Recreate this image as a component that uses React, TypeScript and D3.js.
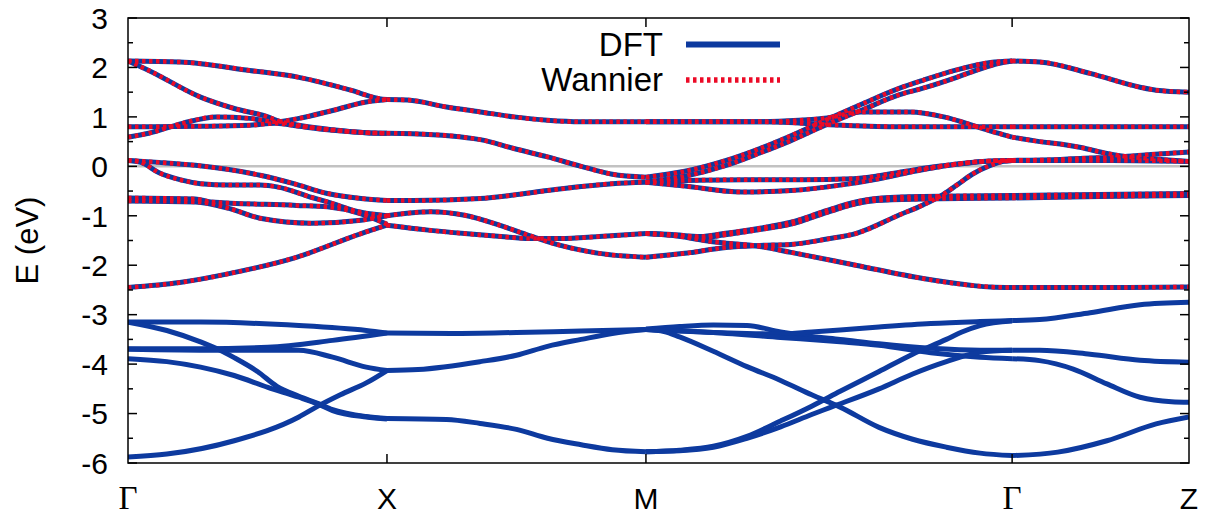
import React from 'react';
import * as d3 from 'd3';

type Pt = [number, number];

const kPoints = [0, 1, 2, 3.414, 4.097];
const kLabels = ['Γ', 'X', 'M', 'Γ', 'Z'];
const yTicks = [3, 2, 1, 0, -1, -2, -3, -4, -5, -6];
const yMinor = [2.5, 1.5, 0.5, -0.5, -1.5, -2.5, -3.5, -4.5, -5.5];

// Wannier-fitted bands (also present in DFT)
const wannierGX: Pt[][] = [
  [[0, 2.13], [0.2, 2.11], [0.47, 1.94], [0.66, 1.8], [0.86, 1.54], [0.97, 1.37], [1, 1.35]],
  [[0, 2.13], [0.08, 1.94], [0.28, 1.4], [0.41, 1.17], [0.54, 1.0], [0.58, 0.92], [0.66, 0.83], [0.79, 0.74], [0.92, 0.68], [1, 0.67]],
  [[0, 0.59], [0.08, 0.67], [0.21, 0.87], [0.34, 1.0], [0.47, 0.97], [0.57, 0.9], [0.66, 0.97], [0.79, 1.13], [0.92, 1.3], [1, 1.35]],
  [[0, 0.8], [0.28, 0.81], [0.47, 0.83], [0.57, 0.87], [0.66, 0.81], [0.79, 0.73], [0.92, 0.68], [1, 0.67]],
  [[0, 0.12], [0.12, 0.08], [0.26, 0.02], [0.51, -0.18], [0.64, -0.35], [0.77, -0.55], [0.9, -0.65], [1, -0.69]],
  [[0, 0.12], [0.05, 0.08], [0.12, -0.13], [0.2, -0.27], [0.28, -0.35], [0.39, -0.38], [0.51, -0.38], [0.58, -0.42], [0.71, -0.63], [0.77, -0.72], [0.9, -0.93], [1, -1.0]],
  [[0, -0.64], [0.26, -0.66], [0.32, -0.72], [0.65, -0.79], [0.77, -0.82], [0.9, -0.96], [1, -1.17]],
  [[0, -0.7], [0.26, -0.72], [0.39, -0.85], [0.51, -1.05], [0.71, -1.15], [0.9, -1.09], [1, -1.0]],
  [[0, -2.45], [0.2, -2.35], [0.39, -2.17], [0.65, -1.84], [0.9, -1.36], [1, -1.19]],
];

const wannierXM: Pt[][] = [
  [[1, 1.35], [1.08, 1.34], [1.23, 1.2], [1.36, 1.1], [1.49, 1.0], [1.62, 0.93], [1.75, 0.9], [2, 0.9]],
  [[1, 0.67], [1.1, 0.66], [1.36, 0.54], [1.49, 0.36], [1.62, 0.19], [1.75, 0.0], [1.87, -0.16], [2, -0.22]],
  [[1, -0.69], [1.1, -0.69], [1.36, -0.65], [1.49, -0.58], [1.62, -0.49], [1.75, -0.41], [1.87, -0.35], [2, -0.32]],
  [[1, -1.0], [1.17, -0.92], [1.3, -0.99], [1.44, -1.2], [1.55, -1.4], [1.67, -1.6], [1.82, -1.76], [2, -1.84]],
  [[1, -1.19], [1.16, -1.29], [1.3, -1.36], [1.44, -1.42], [1.55, -1.46], [1.67, -1.46], [1.82, -1.42], [2, -1.36]],
];

const wannierMG: Pt[][] = [
  [[2, 0.9], [2.44, 0.9], [2.59, 0.93], [2.7, 0.98], [2.83, 1.1], [3.02, 1.1], [3.15, 1.0], [3.28, 0.8], [3.36, 0.67], [3.414, 0.59]],
  [[2, 0.9], [2.44, 0.9], [2.76, 0.83], [3.0, 0.8], [3.414, 0.8]],
  [[2, -0.22], [2.15, -0.1], [2.31, 0.12], [2.44, 0.36], [2.56, 0.62], [2.7, 0.95], [2.83, 1.25], [2.98, 1.58], [3.07, 1.74], [3.2, 1.95], [3.33, 2.1], [3.414, 2.13]],
  [[2, -0.32], [2.15, -0.2], [2.31, 0.02], [2.44, 0.27], [2.56, 0.52], [2.7, 0.85], [2.83, 1.13], [2.98, 1.45], [3.07, 1.58], [3.2, 1.8], [3.28, 1.95], [3.36, 2.08], [3.414, 2.13]],
  [[2, -0.32], [2.2, -0.28], [2.44, -0.27], [2.6, -0.27], [2.8, -0.25], [2.98, -0.12], [3.1, -0.02], [3.2, 0.05], [3.3, 0.1], [3.414, 0.12]],
  [[2, -0.32], [2.15, -0.4], [2.37, -0.52], [2.56, -0.49], [2.75, -0.38], [2.9, -0.25], [3.0, -0.14], [3.1, -0.04], [3.2, 0.04], [3.3, 0.1], [3.414, 0.12]],
  [[2, -1.36], [2.1, -1.38], [2.21, -1.42], [2.3, -1.36], [2.44, -1.25], [2.56, -1.13], [2.7, -0.89], [2.81, -0.72], [2.89, -0.65], [3.07, -0.61], [3.414, -0.59]],
  [[2, -1.36], [2.1, -1.39], [2.21, -1.44], [2.3, -1.39], [2.44, -1.28], [2.56, -1.17], [2.7, -0.93], [2.81, -0.76], [2.89, -0.69], [3.07, -0.66], [3.414, -0.64]],
  [[2, -1.84], [2.15, -1.76], [2.31, -1.64], [2.44, -1.6], [2.56, -1.58], [2.7, -1.47], [2.81, -1.36], [2.98, -0.98], [3.07, -0.78], [3.15, -0.56], [3.2, -0.38], [3.26, -0.16], [3.33, 0.02], [3.38, 0.1], [3.414, 0.12]],
  [[2, -1.36], [2.12, -1.41], [2.25, -1.52], [2.44, -1.62], [2.56, -1.74], [2.81, -2.0], [3.07, -2.27], [3.26, -2.41], [3.33, -2.44], [3.414, -2.45]],
];

const wannierGZ: Pt[][] = [
  [[3.414, 2.13], [3.52, 2.11], [3.715, 1.88], [3.908, 1.6], [3.97, 1.54], [4.097, 1.5]],
  [[3.414, 0.8], [3.75, 0.8], [4.097, 0.8]],
  [[3.414, 0.59], [3.52, 0.5], [3.6, 0.45], [3.68, 0.38], [3.78, 0.26], [3.85, 0.2], [3.935, 0.16], [4.097, 0.1]],
  [[3.414, 0.12], [3.6, 0.14], [3.677, 0.16], [3.83, 0.19], [3.95, 0.24], [4.097, 0.29]],
  [[3.414, 0.12], [3.6, 0.12], [3.8, 0.12], [4.097, 0.1]],
  [[3.414, -0.59], [3.75, -0.57], [4.097, -0.55]],
  [[3.414, -0.64], [3.75, -0.61], [4.097, -0.59]],
  [[3.414, -2.45], [3.75, -2.45], [4.097, -2.44]],
];

// DFT-only bands (below the Wannier window)
const dftGX: Pt[][] = [
  [[0, -3.15], [0.28, -3.15], [0.66, -3.22], [0.92, -3.32], [1, -3.37]],
  [[0, -3.15], [0.15, -3.32], [0.28, -3.55], [0.34, -3.68], [0.41, -3.87], [0.5, -4.15], [0.575, -4.45], [0.66, -4.65], [0.73, -4.79], [0.79, -4.92], [0.92, -5.06], [1, -5.1]],
  [[0, -3.69], [0.28, -3.69], [0.54, -3.66], [0.79, -3.52], [1, -3.37]],
  [[0, -3.7], [0.34, -3.72], [0.66, -3.72], [0.79, -3.86], [0.92, -4.06], [1, -4.13]],
  [[0, -3.89], [0.15, -3.95], [0.28, -4.06], [0.41, -4.23], [0.54, -4.47], [0.66, -4.67], [0.73, -4.8], [0.79, -4.94], [0.92, -5.07], [1, -5.11]],
  [[0, -5.88], [0.15, -5.82], [0.41, -5.55], [0.66, -5.07], [0.73, -4.86], [0.82, -4.62], [0.92, -4.38], [1, -4.13]],
];

const dftXM: Pt[][] = [
  [[1, -3.37], [1.25, -3.38], [1.5, -3.36], [1.75, -3.33], [2, -3.3]],
  [[1, -4.13], [1.12, -4.11], [1.36, -3.95], [1.5, -3.82], [1.62, -3.64], [1.75, -3.5], [1.87, -3.38], [2, -3.3]],
  [[1, -5.1], [1.23, -5.12], [1.36, -5.2], [1.5, -5.32], [1.62, -5.5], [1.75, -5.63], [1.87, -5.73], [2, -5.77]],
];

const dftMG: Pt[][] = [
  [[2, -3.29], [2.13, -3.24], [2.26, -3.21], [2.39, -3.22], [2.52, -3.35], [2.64, -3.44], [2.75, -3.5], [2.9, -3.59], [3.1, -3.68], [3.29, -3.72], [3.414, -3.72]],
  [[2, -3.3], [2.13, -3.33], [2.26, -3.36], [2.39, -3.38], [2.52, -3.39], [2.64, -3.35], [2.75, -3.31], [2.9, -3.25], [3.1, -3.18], [3.29, -3.14], [3.414, -3.12]],
  [[2, -3.3], [2.26, -3.36], [2.52, -3.46], [2.75, -3.55], [2.9, -3.62], [3.1, -3.77], [3.29, -3.86], [3.414, -3.89]],
  [[2, -3.3], [2.07, -3.34], [2.13, -3.45], [2.26, -3.74], [2.39, -4.05], [2.52, -4.33], [2.64, -4.62], [2.75, -4.87], [2.9, -5.28], [3.03, -5.52], [3.16, -5.68], [3.29, -5.8], [3.414, -5.85]],
  [[2, -5.77], [2.13, -5.74], [2.26, -5.66], [2.39, -5.46], [2.52, -5.15], [2.64, -4.85], [2.75, -4.55], [2.9, -4.15], [3.03, -3.8], [3.16, -3.5], [3.22, -3.35], [3.29, -3.22], [3.414, -3.13]],
  [[2, -5.77], [2.13, -5.75], [2.26, -5.68], [2.39, -5.5], [2.52, -5.27], [2.64, -5.02], [2.71, -4.88], [2.9, -4.5], [3.03, -4.2], [3.16, -3.95], [3.29, -3.76], [3.414, -3.72]],
];

const dftGZ: Pt[][] = [
  [[3.414, -3.12], [3.52, -3.1], [3.715, -2.96], [3.908, -2.8], [4.097, -2.75]],
  [[3.414, -3.72], [3.52, -3.72], [3.715, -3.8], [3.908, -3.92], [4.097, -3.96]],
  [[3.414, -3.89], [3.52, -3.93], [3.65, -4.1], [3.78, -4.4], [3.908, -4.67], [4.03, -4.76], [4.097, -4.77]],
  [[3.414, -5.85], [3.59, -5.78], [3.78, -5.55], [3.97, -5.21], [4.097, -5.07]],
];

const BLUE = '#0d3a9f';
const RED = '#ec0a26';
const SANS = '"Liberation Sans", Arial, Helvetica, sans-serif';
const SERIF = '"Liberation Serif", "Times New Roman", serif';

export default function App() {
  const left = 128, right = 1189, top = 18, bottom = 463;
  const x = d3.scaleLinear().domain([kPoints[0], kPoints[kPoints.length - 1]]).range([left, right]);
  const y = d3.scaleLinear().domain([-6, 3]).range([bottom, top]);
  const line = d3.line<Pt>().x((d) => x(d[0])).y((d) => y(d[1])).curve(d3.curveMonotoneX);

  const wannier = [...wannierGX, ...wannierXM, ...wannierMG, ...wannierGZ];
  const dftOnly = [...dftGX, ...dftXM, ...dftMG, ...dftGZ];
  const lw = 5;

  return (
    <svg width={1210} height={518} style={{ position: 'absolute', left: 0, top: 0, background: '#fff' }}>
      <rect x={0} y={0} width={1210} height={518} fill="#fff" />
      <defs>
        <clipPath id="plotclip">
          <rect x={left} y={top} width={right - left} height={bottom - top} />
        </clipPath>
      </defs>
      <line x1={left} x2={right} y1={y(0)} y2={y(0)} stroke="#c2c2c2" strokeWidth={2.5} />
      <g clipPath="url(#plotclip)" fill="none">
        {dftOnly.map((b, i) => (
          <path key={'d' + i} d={line(b) || ''} stroke={BLUE} strokeWidth={lw} />
        ))}
        {wannier.map((b, i) => (
          <path key={'wb' + i} d={line(b) || ''} stroke={BLUE} strokeWidth={lw} />
        ))}
        {wannier.map((b, i) => (
          <path key={'wr' + i} d={line(b) || ''} stroke={RED} strokeWidth={lw - 0.5} strokeDasharray="3.5 3.5" />
        ))}
      </g>
      {/* frame */}
      <rect x={left} y={top} width={right - left} height={bottom - top} fill="none" stroke="#000" strokeWidth={1.5} />
      {/* y ticks */}
      {yTicks.map((t) => (
        <g key={'yt' + t}>
          <line x1={left} x2={left + 9} y1={y(t)} y2={y(t)} stroke="#000" strokeWidth={1.5} />
          <line x1={right} x2={right - 9} y1={y(t)} y2={y(t)} stroke="#000" strokeWidth={1.5} />
          <text x={108} y={y(t)} dy="0.36em" textAnchor="end" fontFamily={SANS} fontSize={30} fill="#000">
            {String(t)}
          </text>
        </g>
      ))}
      {yMinor.map((t) => (
        <g key={'ym' + t}>
          <line x1={left} x2={left + 5} y1={y(t)} y2={y(t)} stroke="#000" strokeWidth={1.5} />
          <line x1={right} x2={right - 5} y1={y(t)} y2={y(t)} stroke="#000" strokeWidth={1.5} />
        </g>
      ))}
      {/* x ticks */}
      {kPoints.map((k, i) => (
        <g key={'xt' + i}>
          {i > 0 && i < kPoints.length - 1 && (
            <>
              <line x1={x(k)} x2={x(k)} y1={bottom} y2={bottom - 9} stroke="#000" strokeWidth={1.5} />
              <line x1={x(k)} x2={x(k)} y1={top} y2={top + 9} stroke="#000" strokeWidth={1.5} />
            </>
          )}
          <text
            x={x(k)}
            y={509}
            textAnchor="middle"
            fontFamily={kLabels[i] === 'Γ' ? SERIF : SANS}
            fontSize={kLabels[i] === 'Γ' ? 33 : 30}
            fill="#000"
          >
            {kLabels[i]}
          </text>
        </g>
      ))}
      {/* y label */}
      <text
        transform={`translate(38, ${(top + bottom) / 2}) rotate(-90)`}
        textAnchor="middle"
        fontFamily={SANS}
        fontSize={31}
        fill="#000"
      >
        E (eV)
      </text>
      {/* legend */}
      <text x={663} y={56} textAnchor="end" fontFamily={SANS} fontSize={33} fill="#000">DFT</text>
      <line x1={686} x2={780} y1={44.5} y2={44.5} stroke={BLUE} strokeWidth={6} />
      <text x={663} y={91} textAnchor="end" fontFamily={SANS} fontSize={33} fill="#000">Wannier</text>
      <line x1={686} x2={780} y1={80} y2={80} stroke={RED} strokeWidth={5.5} strokeDasharray="3.5 3.5" />
    </svg>
  );
}
